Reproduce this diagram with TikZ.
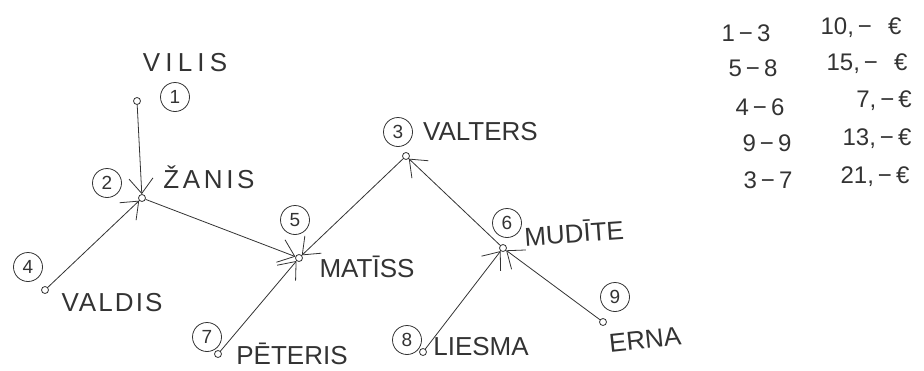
\documentclass[tikz,border=0pt]{standalone}
\usepackage{fontspec}
\setmainfont{Liberation Sans}
\usetikzlibrary{arrows.meta}
\definecolor{pencil}{HTML}{333333}
\tikzset{
  dotpt/.style={circle, draw=pencil, line width=0.8pt, inner sep=0pt, minimum size=7pt},
  numc/.style={circle, draw=pencil, line width=0.8pt, inner sep=0pt, minimum size=29pt, text=pencil, font=\fontsize{19}{19}\selectfont},
  lbl/.style={text=pencil, inner sep=0pt, font=\fontsize{26}{26}\selectfont},
  tab/.style={text=pencil, inner sep=0pt, font=\fontsize{24}{24}\selectfont},
  conn/.style={draw=pencil, line width=0.8pt, -{Straight Barb[length=15pt,width=24pt,line width=0.8pt]}}
}
\begin{document}
\begin{tikzpicture}[x=1pt,y=-1pt]
\useasboundingbox (0,0) rectangle (924,370);
% points
\node[dotpt] (v1) at (137,101) {};
\node[dotpt] (v2) at (142,198) {};
\node[dotpt] (v3) at (406,156) {};
\node[dotpt] (v4) at (45,290) {};
\node[dotpt] (v5) at (299,258) {};
\node[dotpt] (v6) at (503,248) {};
\node[dotpt] (v7) at (218,354) {};
\node[dotpt] (v8) at (423,352) {};
\node[dotpt] (v9) at (603,322) {};
% numbers
\node[numc] (n1) at (175,97) {1};
\node[numc] (n2) at (107,183) {2};
\node[numc] (n3) at (398,132) {3};
\node[numc] (n4) at (28,267) {4};
\node[numc] (n5) at (295,220) {5};
\node[numc] (n6) at (507,223) {6};
\node[numc] (n7) at (207,337) {7};
\node[numc] (n8) at (407,340) {8};
\node[numc] (n9) at (615,297) {9};
% names
\node[lbl] (t1) at (185,63) {\addfontfeature{LetterSpace=20}VILIS};
\node[lbl] (t2) at (209,177) {\addfontfeature{LetterSpace=14}ŽANIS};
\node[lbl, anchor=west] (t3) at (423,132) {VALTERS};
\node[lbl] (t4) at (112,303) {\addfontfeature{LetterSpace=8}VALDIS};
\node[lbl] (t5) at (367,267) {MATĪSS};
\node[lbl, rotate=4] (t6) at (574,232) {MUDĪTE};
\node[lbl] (t7) at (292,354) {PĒTERIS};
\node[lbl] (t8) at (481,347) {LIESMA};
\node[lbl, rotate=6] (t9) at (645,340) {ERNA};
% edges
\draw[conn] (v1) -- (v2);
\draw[conn] (v4) -- (v2);
\draw[conn] (v2) -- (v5);
\draw[conn] (v3) -- (v5);
\draw[conn] (v7) -- (v5);
\draw[conn] (v6) -- (v3);
\draw[conn] (v8) -- (v6);
\draw[conn] (v9) -- (v6);
% table
\node[tab] (a1) at (746,33) {1\,−\,3};
\node[tab] (a2) at (753,68) {5\,−\,8};
\node[tab] (a3) at (760,107) {4\,−\,6};
\node[tab] (a4) at (767,143) {9\,−\,9};
\node[tab] (a5) at (768,180) {3\,−\,7};
\node[tab] (b1) at (861,28) {10,\,−\enspace\,€};
\node[tab] (b2) at (867,64) {15,\,−\enspace\,€};
\node[tab] (b3) at (884,101) {7,\,−\,€};
\node[tab] (b4) at (877,139) {13,\,−\,€};
\node[tab] (b5) at (875,177) {21,\,−\,€};
\end{tikzpicture}
\end{document}
